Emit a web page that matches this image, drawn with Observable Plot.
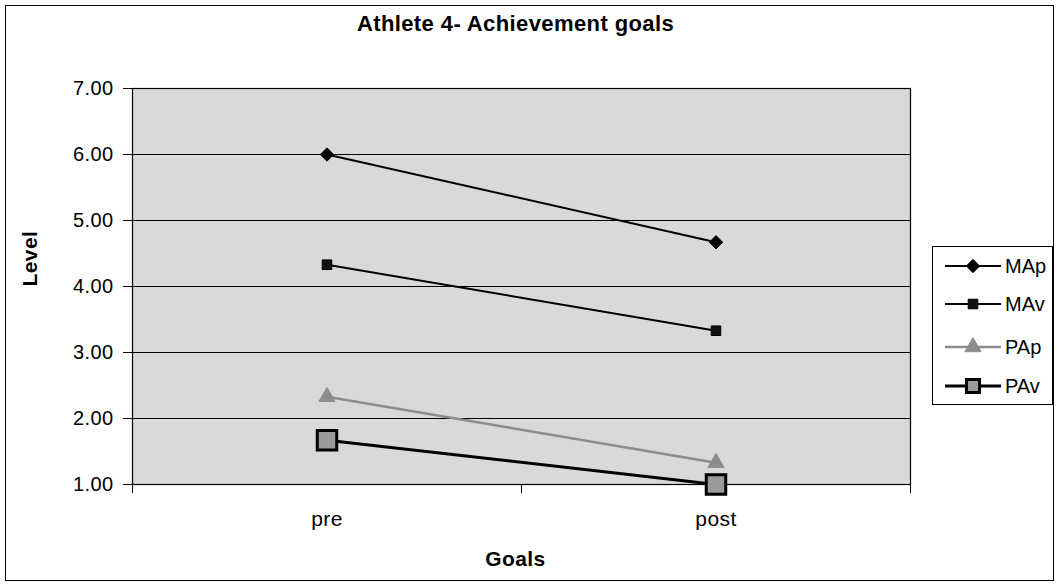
<!DOCTYPE html>
<html>
<head>
<meta charset="utf-8">
<script src="https://cdn.jsdelivr.net/npm/d3@7"></script>
<script src="https://cdn.jsdelivr.net/npm/@observablehq/plot@0.6"></script>
<style>
  html, body { margin: 0; padding: 0; background: #fff; }
  #wrap { position: relative; width: 1058px; height: 584px; font-family: "Liberation Sans", Arial, sans-serif; }
  #border { position: absolute; left: 5px; top: 5px; width: 1049px; height: 576px; border: 1px solid #000; box-sizing: border-box; pointer-events: none; }
  #legend { position: absolute; left: 932px; top: 246px; width: 121px; height: 159px; border: 1px solid #000; box-sizing: border-box; background: #fff; }
  .item { position: absolute; left: 11px; height: 22px; display: flex; align-items: center; font-size: 20px; }
  .item svg { margin-right: 3px; }
  #chart svg text { letter-spacing: 0.4px; }
</style>
</head>
<body>
<div id="wrap"><div id="border"></div><div id="chart"></div><div id="legend"></div></div>
<script>
const categories = ["pre", "post"];
const seriesNames = ["MAp", "MAv", "PAp", "PAv"];
const MAp = [6.00, 4.67];
const MAv = [4.33, 3.33];
const PAp = [2.33, 1.33];
const PAv = [1.67, 1.00];
const yTicks = [1, 2, 3, 4, 5, 6, 7];

const values = {MAp, MAv, PAp, PAv};
const styles = {
  MAp: {stroke: "#000", sw: 2, symbol: "diamond2", r: 6, fill: "#000", mstroke: "#000", msw: 1},
  MAv: {stroke: "#000", sw: 2, symbol: "square", r: 5.4, fill: "#111", mstroke: "#000", msw: 1},
  PAp: {stroke: "#8c8c8c", sw: 2.5, symbol: "triangle", r: 6, fill: "#8c8c8c", mstroke: "#8c8c8c", msw: 1},
  PAv: {stroke: "#000", sw: 3, symbol: "square", r: 11, fill: "#9a9a9a", mstroke: "#000", msw: 3}
};

const rows = [];
seriesNames.forEach(s => categories.forEach((c, i) => rows.push({series: s, cat: c, xi: i + 0.5, value: values[s][i]})));

const marks = [
  Plot.frame({fill: "#d9d9d9", stroke: null}),
  Plot.ruleY(yTicks, {stroke: "#000", strokeWidth: 1}),
  Plot.frame({stroke: "#000", strokeWidth: 1.2}),
  Plot.axisY({ticks: yTicks, tickFormat: d => d.toFixed(2), tickSize: 9, tickPadding: 10, fontSize: 20, label: null}),
  Plot.axisX({ticks: [0, 1, 2], tickFormat: () => "", tickSize: 9, label: null}),
  Plot.axisX({ticks: categories.map((c, i) => i + 0.5), tickFormat: v => categories[Math.round(v - 0.5)], tickSize: 0, tickPadding: 27, fontSize: 21, label: null})
];
seriesNames.forEach(s => {
  const st = styles[s];
  const data = rows.filter(d => d.series === s);
  marks.push(Plot.line(data, {x: "xi", y: "value", stroke: st.stroke, strokeWidth: st.sw}));
});
seriesNames.forEach(s => {
  const st = styles[s];
  const data = rows.filter(d => d.series === s);
  marks.push(Plot.dot(data, {x: "xi", y: "value", symbol: st.symbol, r: st.r, fill: st.fill, stroke: st.mstroke, strokeWidth: st.msw}));
});
marks.push(Plot.text(["Athlete 4- Achievement goals"], {frameAnchor: "top", dy: -65, dx: -6, fontSize: 22, fontWeight: "bold", lineAnchor: "middle"}));
marks.push(Plot.text(["Goals"], {frameAnchor: "bottom", dy: 75, dx: -6, fontSize: 21, fontWeight: "bold", lineAnchor: "middle"}));
marks.push(Plot.text(["Level"], {frameAnchor: "left", dx: -102, rotate: -90, fontSize: 21, fontWeight: "bold", lineAnchor: "middle"}));

const chart = Plot.plot({
  width: 1058,
  height: 584,
  marginLeft: 132,
  marginRight: 148,
  marginTop: 88,
  marginBottom: 100,
  style: {fontFamily: "'Liberation Sans', Arial, sans-serif", color: "#000", background: "transparent"},
  x: {type: "linear", domain: [0, categories.length]},
  y: {domain: [1, 7]},
  marks
});
document.getElementById("chart").appendChild(chart);

// legend
const legend = document.getElementById("legend");
const tops = [8, 46, 89, 128];
seriesNames.forEach((s, k) => {
  const st = styles[s];
  const item = document.createElement("div");
  item.className = "item";
  item.style.top = tops[k] + "px";
  const sym = d3.symbol(
    st.symbol === "diamond2" ? d3.symbolDiamond2 : st.symbol === "triangle" ? d3.symbolTriangle : d3.symbolSquare,
    Math.PI * st.r * st.r * (s === "PAv" ? 0.45 : 1)
  )();
  item.innerHTML = `<svg width="58" height="22"><line x1="1" x2="57" y1="11" y2="11" stroke="${st.stroke}" stroke-width="${st.sw}"/><path d="${sym}" transform="translate(29,11)" fill="${st.fill}" stroke="${st.mstroke}" stroke-width="${st.msw}"/></svg><span>${s}</span>`;
  legend.appendChild(item);
});
</script>
</body>
</html>
